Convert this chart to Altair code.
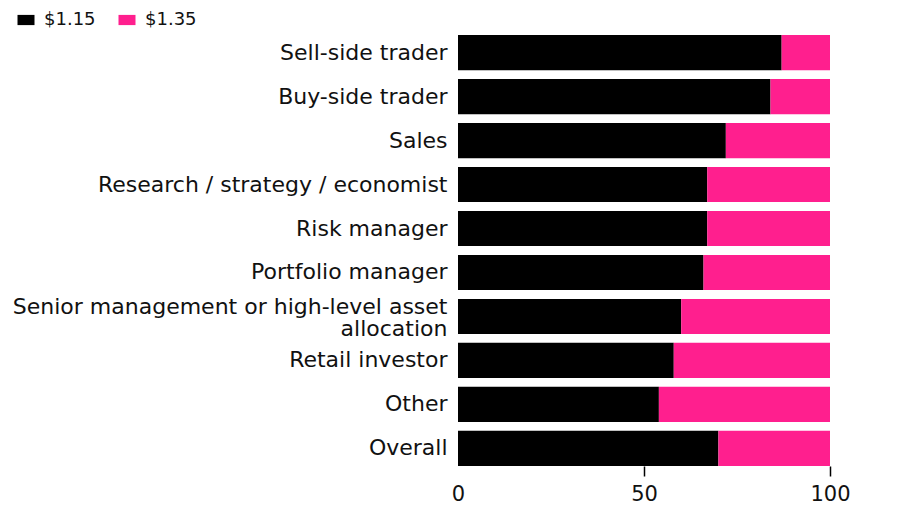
import altair as alt
import pandas as pd

categories = [
    "Sell-side trader",
    "Buy-side trader",
    "Sales",
    "Research / strategy / economist",
    "Risk manager",
    "Portfolio manager",
    "Senior management or high-level asset|allocation",
    "Retail investor",
    "Other",
    "Overall",
]
share_115 = [87, 84, 72, 67, 67, 66, 60, 58, 54, 70]
share_135 = [13, 16, 28, 33, 33, 34, 40, 42, 46, 30]
series = ["$1.15", "$1.35"]
colors = ["#000000", "#ff1f8e"]
x_ticks = [0, 50, 100]

rows = []
for c, a, b in zip(categories, share_115, share_135):
    rows.append({"role": c, "price": series[0], "share": a, "ord": 0})
    rows.append({"role": c, "price": series[1], "share": b, "ord": 1})
df = pd.DataFrame(rows)

FONT = "DejaVu Sans"

chart = alt.Chart(df).mark_bar().encode(
    y=alt.Y(
        "role:N",
        sort=categories,
        title=None,
        scale=alt.Scale(paddingInner=0.2, paddingOuter=0),
        axis=alt.Axis(
            labelExpr="split(datum.label, '|')",
            labelFont=FONT,
            labelFontSize=22,
            labelColor="#111111",
            labelLineHeight=22,
            labelPadding=11,
            labelLimit=0,
            labelOffset={"condition": {"test": "indexof(datum.value, '|') >= 0", "value": -9}, "value": 0},
            ticks=False,
            domain=False,
        ),
    ),
    x=alt.X(
        "share:Q",
        stack="zero",
        title=None,
        scale=alt.Scale(domain=[0, 100], nice=False),
        axis=alt.Axis(
            values=x_ticks,
            grid=False,
            domain=False,
            tickSize=10,
            tickWidth=1.5,
            tickColor={"condition": {"test": "datum.value === 0", "value": "transparent"}, "value": "#000000"},
            labelFont=FONT,
            labelFontSize=21,
            labelColor="#111111",
            labelPadding=7,
            labelFlush=False,
        ),
    ),
    color=alt.Color(
        "price:N",
        scale=alt.Scale(domain=series, range=colors),
        legend=alt.Legend(
            title=None,
            orient="none",
            direction="horizontal",
            legendX=-441,
            legendY=-24,
            symbolType="M-1,-0.6H1V0.6H-1Z",
            symbolSize=289,
            symbolStrokeWidth=0,
            labelFont=FONT,
            labelFontSize=18,
            labelColor="#111111",
            labelOffset=9,
            columnPadding=22,
        ),
    ),
    order=alt.Order("ord:Q"),
).properties(
    width=372,
    height=431,
    autosize=alt.AutoSizeParams(type="none"),
    padding={"left": 450, "top": 27, "right": 60, "bottom": 40},
).configure_view(stroke=None)

chart.save("out.html", embed_options={"renderer": "svg", "actions": False})
